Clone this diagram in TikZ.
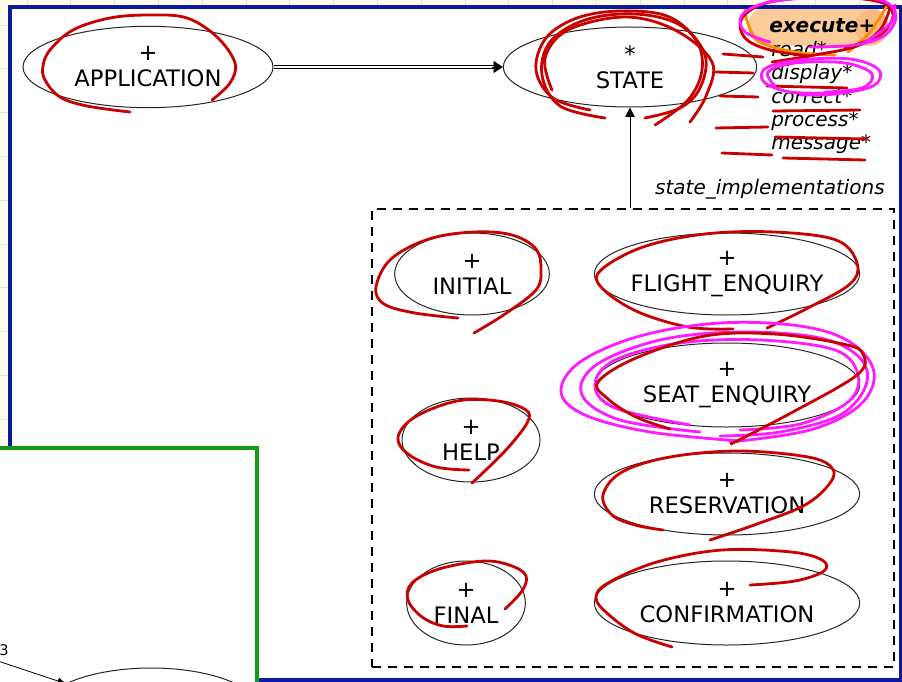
\documentclass[tikz,border=0pt]{standalone}
\usepackage{fontspec}
\setmainfont{DejaVu Sans}
\usetikzlibrary{shapes.geometric,arrows.meta,calc,fit}
\definecolor{creambg}{HTML}{FFFCEE}
\definecolor{gridc}{HTML}{E4E4DC}
\definecolor{navyc}{HTML}{0B1A9B}
\definecolor{grnc}{HTML}{159A15}
\definecolor{rdc}{HTML}{C80000}
\definecolor{mgc}{HTML}{FF1AFF}
\definecolor{orc}{HTML}{FF8C00}
\definecolor{orhl}{HTML}{FBCB98}
\definecolor{orhlb}{HTML}{F8B982}
\begin{document}
\begin{tikzpicture}[x=0.75pt,y=-0.75pt,
  ell/.style={draw=black!85, line width=0.75pt, ellipse, inner sep=0pt},
  lbl/.style={align=center, font=\fontsize{17}{19.5}\selectfont, inner sep=0pt},
  feat/.style={anchor=base west, font=\fontsize{15}{17}\selectfont\itshape, inner sep=0pt},
  redpen/.style={draw=rdc, line width=2.1pt, line cap=round, line join=round},
  magpen/.style={draw=mgc, line width=2.1pt, line cap=round, line join=round},
  orpen/.style={draw=orc, line width=2.1pt, line cap=round, line join=round},
  conn/.style={line width=0.7pt, draw=black}
]
\useasboundingbox (0,0) rectangle (902,681);
% background
\fill[creambg] (0,0) rectangle (902,681);
\foreach \i in {0,...,20} {\draw[gridc, line width=0.5pt] ({27+43.8*\i},0) -- ({27+43.8*\i},7);}
\foreach \i in {0,...,9} {\draw[gridc, line width=0.5pt] (0,{25+43.8*\i}) -- (10,{25+43.8*\i});}
\fill[white] (10,7) rectangle (902,681);
% highlight
\fill[orhl, rounded corners=14pt] (748,7) rectangle (888,46);
\fill[orhlb] (872,27) circle (17);
% blue frame
\draw[navyc, line width=2.6pt] (10,7) rectangle (901,680);
% green frame region
\fill[white] (-2,450) rectangle (255,690);
\draw[grnc, line width=3pt] (-3,448) -- (257,448) -- (257,690);

% top ellipses
\node[ell, minimum width=187.5pt, minimum height=61pt] (app) at (148,67) {};
\node[lbl] (appt) at (app.center) {+\\APPLICATION};
\node[ell, minimum width=190pt, minimum height=60pt] (state) at (630,67) {};
\node[lbl] (statet) at (state.center) {*\\STATE};

\draw[conn, double, double distance=1.6pt, line width=0.6pt] (app.east) -- ($(state.west)+(-9,0)$);
\draw[conn, -{Triangle[length=7pt,width=9pt]}] ($(state.west)+(-11,0)$) -- (state.west);

% features
\node[feat] (f1) at (769,33) {\textbf{execute+}};
\node[feat] (f2) at (771,57) {read*};
\node[feat] (f3) at (771,80) {display*};
\node[feat] (f4) at (771,104) {correct*};
\node[feat] (f5) at (771,127) {process*};
\node[feat] (f6) at (771,150) {message*};

% implementations box
\node[draw, line width=1.5pt, dash pattern=on 7pt off 5pt, fit={(372,209) (894,667)}, inner sep=0pt] (impl) {};
\node[font=\fontsize{15}{17}\selectfont\itshape, anchor=base east, inner sep=0pt] (implt) at (885,194) {state\_implementations};
\draw[conn, -{Triangle[length=7pt,width=7pt]}] (state.south |- impl.north) -- (state.south);

\node[ell, minimum width=116pt, minimum height=61.5pt] (init) at (472,274) {};
\node[lbl] (initt) at (init.center) {+\\INITIAL};
\node[ell, minimum width=199pt, minimum height=61.5pt] (flight) at (727,274) {};
\node[lbl] (flightt) at (flight.center) {+\\FLIGHT\_ENQUIRY};
\node[ell, minimum width=103.5pt, minimum height=63pt] (help) at (471,440) {};
\node[lbl] (helpt) at (help.center) {+\\HELP};
\node[ell, minimum width=199pt, minimum height=63pt] (seat) at (727,385) {};
\node[lbl] (seatt) at (seat.center) {+\\SEAT\_ENQUIRY};
\node[ell, minimum width=199pt, minimum height=61.5pt] (res) at (727,494) {};
\node[lbl] (rest) at (res.center) {+\\RESERVATION};
\node[ell, minimum width=89pt, minimum height=63pt] (final) at (466,603) {};
\node[lbl] (finalt) at (final.center) {+\\FINAL};
\node[ell, minimum width=199pt, minimum height=63pt] (conf) at (727,603) {};
\node[lbl] (conft) at (conf.center) {+\\CONFIRMATION};

% bottom-left partial
\node[ell, minimum width=166pt, minimum height=66pt] (bell) at (151,712) {};
\coordinate (c3) at (-2,661);
\draw[conn, line width=0.6pt, -{Triangle[length=6pt,width=5pt]}] (c3) -- (bell);
\node[font=\fontsize{11}{13}\selectfont, anchor=base west, inner sep=0pt] (t3) at (-1,655) {3};

% ---- ink annotations ----
% APPLICATION
\draw[redpen] plot[smooth, tension=0.6] coordinates {(130,112) (87,106) (60,97) (45,80) (43,66) (50,50) (73,30) (110,18) (150,15) (187,18) (217,37) (235,63) (230,83) (212,100)};
% STATE
\draw[redpen] plot[smooth, tension=0.6] coordinates {(590,110) (553,98) (536,70) (546,38) (577,18) (620,11) (667,16) (696,40) (702,70) (688,100) (655,125)};
\draw[redpen] plot[smooth, tension=0.6] coordinates {(605,118) (560,106) (542,75) (550,42) (585,20) (635,14) (680,25) (705,55) (700,88) (680,108) (645,118)};
\draw[redpen] plot[smooth, tension=0.6] coordinates {(552,90) (545,58) (568,30) (625,17) (675,30) (712,62) (706,96) (690,122)};
% list strokes
\draw[redpen] (723,54) -- (763,57);
\draw[redpen] (716,72) -- (753,73);
\draw[redpen] (720,96) -- (758,97);
\draw[redpen] (716,128) -- (768,127);
\draw[redpen] (722,153) -- (772,155);
\draw[redpen] (767,86) -- (847,88);
\draw[redpen] (773,111) -- (860,110);
\draw[redpen] (775,137) -- (867,139);
\draw[redpen] (783,158) -- (865,160);
% execute
\draw[orpen] plot[smooth, tension=0.6] coordinates {(745,10) (748,24) (760,42) (795,52) (835,55)};
\draw[orpen] plot[smooth, tension=0.6] coordinates {(848,52) (870,32) (888,4)};
\draw[redpen] plot[smooth, tension=0.6] coordinates {(845,48) (880,35) (893,15) (880,2) (830,-3) (770,2) (742,18) (745,38) (770,50) (810,56)};
\draw[redpen] plot[smooth, tension=0.6] coordinates {(772,62) (815,55) (857,46) (880,30) (890,8)};
\draw[magpen] plot[smooth, tension=0.6] coordinates {(770,42) (745,32) (742,15) (770,2) (830,-3) (880,0) (896,15) (885,35) (855,45) (810,47)};
\draw[magpen] plot[smooth, tension=0.6] coordinates {(862,44) (890,24) (895,5)};
% display
\draw[magpen] plot[smooth, tension=0.6] coordinates {(830,93) (790,92) (764,82) (766,68) (800,60) (850,59) (879,70) (873,86) (835,94) (800,95)};
\draw[magpen] plot[smooth, tension=0.6] coordinates {(775,86) (768,72) (795,63) (845,63) (872,74) (862,88) (825,92)};
% INITIAL
\draw[redpen] plot[smooth, tension=0.6] coordinates {(474,333) (505,314) (536,290) (541,270) (536,249) (512,235) (474,232) (429,239) (391,259) (376,287) (384,304) (415,313) (458,318)};
% FLIGHT
\draw[redpen] plot[smooth, tension=0.6] coordinates {(767,328) (808,308) (850,284) (857,263) (836,240) (774,232) (705,234) (643,247) (601,270) (601,287) (636,311) (688,327) (733,329)};
% SEAT
\draw[magpen] plot[smooth, tension=0.6] coordinates {(740,441) (650,432) (585,415) (561,392) (580,362) (640,336) (720,323) (800,326) (850,342) (874,372) (860,405) (810,430) (730,442)};
\draw[magpen] plot[smooth, tension=0.6] coordinates {(700,432) (620,420) (582,395) (596,365) (660,340) (740,332) (820,338) (860,358) (866,385) (840,415) (780,432) (720,436)};
\draw[magpen] plot[smooth, tension=0.6] coordinates {(690,425) (615,408) (595,385) (615,360) (680,343) (760,340) (835,350) (858,375) (848,402) (800,424) (740,430)};
\draw[redpen] plot[smooth, tension=0.6] coordinates {(731,444) (791,413) (857,375) (863,354) (843,344) (774,334) (705,336) (636,358) (598,382) (608,399) (636,417) (670,429)};
% HELP
\draw[redpen] plot[smooth, tension=0.6] coordinates {(472,483) (505,451) (527,423) (526,410) (498,401) (457,401) (415,417) (398,437) (408,454) (436,467) (469,470)};
% RESERVATION
\draw[redpen] plot[smooth, tension=0.6] coordinates {(710,540) (757,524) (805,505) (830,483) (832,468) (808,457) (739,451) (670,457) (622,472) (603,495) (612,515) (635,525) (663,530)};
% CONFIRMATION
\draw[redpen] plot[smooth, tension=0.6] coordinates {(750,585) (795,581) (824,571) (822,560) (791,552) (722,550) (657,562) (608,583) (596,598) (608,614) (636,634) (672,647)};
% FINAL
\draw[redpen] plot[smooth, tension=0.6] coordinates {(505,609) (522,591) (526,576) (512,566) (484,561) (439,569) (412,583) (408,600) (422,617) (443,626) (467,626)};
\end{tikzpicture}
\end{document}
